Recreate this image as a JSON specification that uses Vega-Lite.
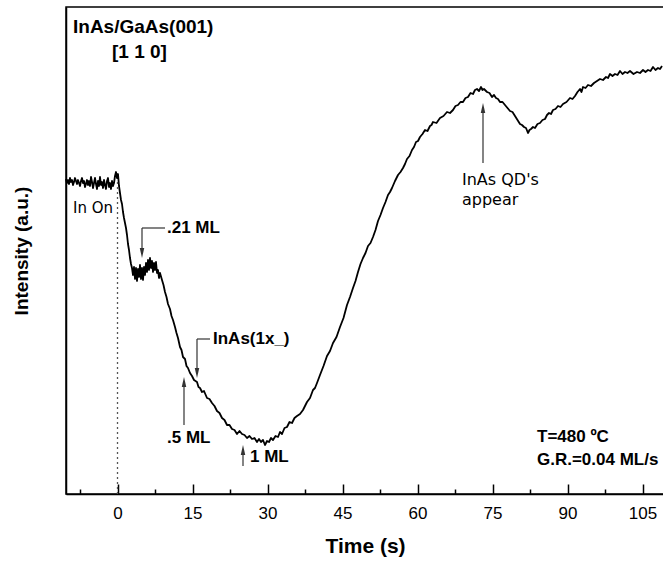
{
  "$schema": "https://vega.github.io/schema/vega-lite/v6.json",
  "width": 598,
  "height": 487,
  "autosize": {"type": "none"},
  "padding": {"left": 66, "top": 7, "right": 0, "bottom": 70},
  "background": "white",
  "config": {"view": {"stroke": "black", "strokeWidth": 1.5}, "axis": {"grid": false}},
  "datasets": {
    "curve": [
      {"t":-10.3,"v":315},{"t":-10.1,"v":311},{"t":-9.9,"v":314},{"t":-9.7,"v":310},{"t":-9.5,"v":316},{"t":-9.3,"v":312},{"t":-9.1,"v":314},{"t":-8.9,"v":309},{"t":-8.7,"v":312},{"t":-8.5,"v":316},{"t":-8.3,"v":313},{"t":-8.1,"v":310},{"t":-7.9,"v":314},{"t":-7.7,"v":311},{"t":-7.5,"v":308},{"t":-7.3,"v":313},{"t":-7.1,"v":316},{"t":-6.9,"v":311},{"t":-6.7,"v":313},{"t":-6.5,"v":307},{"t":-6.3,"v":310},{"t":-6.1,"v":314},{"t":-5.9,"v":309},{"t":-5.7,"v":313},{"t":-5.5,"v":308},{"t":-5.3,"v":317},{"t":-5.1,"v":312},{"t":-4.9,"v":306},{"t":-4.7,"v":311},{"t":-4.5,"v":316},{"t":-4.3,"v":310},{"t":-4.1,"v":305},{"t":-3.9,"v":313},{"t":-3.7,"v":308},{"t":-3.5,"v":317},{"t":-3.3,"v":309},{"t":-3.1,"v":312},{"t":-2.9,"v":306},{"t":-2.7,"v":314},{"t":-2.5,"v":309},{"t":-2.3,"v":305},{"t":-2.1,"v":313},{"t":-1.9,"v":316},{"t":-1.7,"v":307},{"t":-1.5,"v":311},{"t":-1.3,"v":305},{"t":-1.1,"v":313},{"t":-0.9,"v":308},{"t":-0.7,"v":311},{"t":-0.5,"v":318},{"t":-0.3,"v":322},{"t":-0.1,"v":316},{"t":0.1,"v":320},{"t":0.3,"v":308},
      {"t":0.5,"v":301},{"t":0.7,"v":294},{"t":0.9,"v":290},{"t":1.1,"v":282},{"t":1.3,"v":276},{"t":1.5,"v":271},{"t":1.7,"v":266},{"t":1.9,"v":259},{"t":2.1,"v":250},{"t":2.3,"v":244},{"t":2.5,"v":236},{"t":2.7,"v":230},{"t":2.9,"v":226},{"t":3.1,"v":219},{"t":3.3,"v":227},{"t":3.5,"v":215},{"t":3.7,"v":226},{"t":3.9,"v":213},{"t":4.1,"v":225},{"t":4.3,"v":217},{"t":4.5,"v":229},{"t":4.7,"v":215},{"t":4.9,"v":226},{"t":5.1,"v":214},{"t":5.3,"v":227},{"t":5.5,"v":219},{"t":5.7,"v":231},{"t":5.9,"v":222},{"t":6.1,"v":234},{"t":6.3,"v":224},{"t":6.5,"v":236},{"t":6.7,"v":226},{"t":6.9,"v":233},{"t":7.1,"v":222},{"t":7.3,"v":231},{"t":7.5,"v":224},{"t":7.7,"v":232},{"t":7.9,"v":221},{"t":8.1,"v":224},{"t":8.3,"v":216},{"t":8.5,"v":221},
      {"t":8.9,"v":214},{"t":9.2,"v":209},{"t":9.5,"v":202},{"t":9.8,"v":197},{"t":10.1,"v":190},{"t":10.5,"v":185},{"t":10.8,"v":178},{"t":11.1,"v":174},{"t":11.5,"v":167},{"t":11.8,"v":161},{"t":12.1,"v":156},{"t":12.5,"v":147},{"t":12.8,"v":144},{"t":13.1,"v":137},{"t":13.5,"v":135},{"t":13.8,"v":128},{"t":14.1,"v":126},{"t":14.5,"v":121},{"t":14.9,"v":118},{"t":15.3,"v":114},{"t":15.9,"v":112},{"t":16.2,"v":107},{"t":16.5,"v":106},{"t":16.9,"v":102},{"t":17.3,"v":103},{"t":17.9,"v":96},{"t":18.4,"v":95},{"t":18.9,"v":91},{"t":19.4,"v":88},{"t":19.9,"v":83},{"t":20.4,"v":81},{"t":20.9,"v":76},{"t":21.4,"v":74},{"t":21.9,"v":69},{"t":22.4,"v":69},{"t":22.9,"v":65},{"t":23.4,"v":64},{"t":23.9,"v":60},{"t":24.4,"v":63},{"t":24.9,"v":60},{"t":25.4,"v":59},{"t":25.9,"v":56},{"t":26.4,"v":58},{"t":26.9,"v":55},{"t":27.4,"v":56},{"t":27.9,"v":52},{"t":28.3,"v":55},{"t":28.7,"v":52},{"t":29.1,"v":54},{"t":29.5,"v":49},{"t":29.9,"v":53},{"t":30.3,"v":52},{"t":30.7,"v":56},{"t":31.1,"v":54},{"t":31.6,"v":58},{"t":32.1,"v":57},{"t":32.5,"v":62},{"t":32.9,"v":60},{"t":33.4,"v":66},{"t":33.9,"v":67},{"t":34.4,"v":72},{"t":34.9,"v":71},{"t":35.4,"v":76},{"t":35.9,"v":78},{"t":36.5,"v":80},{"t":37.1,"v":84},{"t":37.5,"v":88},{"t":37.9,"v":92},{"t":38.5,"v":96},{"t":39.1,"v":104},{"t":39.5,"v":106},{"t":39.9,"v":111},{"t":40.5,"v":119},{"t":41.2,"v":128},{"t":41.9,"v":138},{"t":42.5,"v":143},{"t":43.1,"v":151},{"t":43.8,"v":157},{"t":44.5,"v":167},{"t":45.2,"v":176},{"t":45.9,"v":189},{"t":46.5,"v":197},{"t":47.1,"v":206},{"t":47.6,"v":213},{"t":48.1,"v":222},{"t":48.6,"v":230},{"t":49.1,"v":236},{"t":49.6,"v":241},{"t":50.1,"v":248},{"t":50.6,"v":251},{"t":51.1,"v":257},{"t":51.6,"v":264},{"t":52.1,"v":273},{"t":52.6,"v":279},{"t":53.1,"v":286},{"t":53.6,"v":292},{"t":54.1,"v":299},{"t":54.5,"v":302},{"t":54.9,"v":306},{"t":55.5,"v":313},{"t":56.1,"v":319},{"t":56.6,"v":322},{"t":57.1,"v":326},{"t":57.5,"v":330},{"t":57.9,"v":335},{"t":58.4,"v":338},{"t":58.9,"v":344},{"t":59.3,"v":347},{"t":59.7,"v":352},{"t":60.1,"v":353},{"t":60.5,"v":357},{"t":61.0,"v":360},{"t":61.5,"v":364},{"t":62.0,"v":363},{"t":62.5,"v":368},{"t":62.8,"v":369},{"t":63.1,"v":372},{"t":63.8,"v":371},{"t":64.5,"v":376},{"t":65.2,"v":378},{"t":65.9,"v":382},{"t":66.5,"v":381},{"t":67.1,"v":384},{"t":67.6,"v":388},{"t":68.1,"v":389},{"t":68.6,"v":392},{"t":69.1,"v":392},{"t":69.6,"v":396},{"t":70.1,"v":397},{"t":70.6,"v":401},{"t":71.1,"v":400},{"t":71.5,"v":404},{"t":71.9,"v":405},{"t":72.3,"v":403},{"t":72.7,"v":407},{"t":73.0,"v":404},{"t":73.3,"v":405},{"t":73.9,"v":402},{"t":74.4,"v":401},{"t":74.9,"v":397},{"t":75.3,"v":399},{"t":75.7,"v":396},{"t":76.1,"v":395},{"t":76.5,"v":392},{"t":77.0,"v":392},{"t":77.5,"v":389},{"t":78.0,"v":386},{"t":78.5,"v":383},{"t":79.0,"v":382},{"t":79.5,"v":378},{"t":80.0,"v":374},{"t":80.5,"v":370},{"t":80.9,"v":369},{"t":81.3,"v":367},{"t":81.7,"v":366},{"t":82.1,"v":361},{"t":82.4,"v":364},{"t":82.7,"v":365},{"t":83.1,"v":367},{"t":83.5,"v":366},{"t":84.0,"v":370},{"t":84.5,"v":371},{"t":85.0,"v":374},{"t":85.5,"v":375},{"t":85.9,"v":379},{"t":86.3,"v":381},{"t":86.7,"v":380},{"t":87.1,"v":384},{"t":87.6,"v":385},{"t":88.1,"v":388},{"t":88.6,"v":387},{"t":89.1,"v":390},{"t":89.8,"v":392},{"t":90.5,"v":396},{"t":91.0,"v":395},{"t":91.5,"v":398},{"t":92.0,"v":402},{"t":92.5,"v":405},{"t":92.8,"v":402},{"t":93.1,"v":407},{"t":93.6,"v":406},{"t":94.1,"v":409},{"t":94.7,"v":408},{"t":95.3,"v":411},{"t":95.9,"v":413},{"t":96.5,"v":415},{"t":97.1,"v":414},{"t":97.7,"v":417},{"t":98.1,"v":416},{"t":98.5,"v":420},{"t":99.0,"v":418},{"t":99.5,"v":420},{"t":100.0,"v":419},{"t":100.5,"v":423},{"t":101.0,"v":420},{"t":101.5,"v":422},{"t":102.0,"v":421},{"t":102.5,"v":423},{"t":103.2,"v":420},{"t":103.9,"v":422},{"t":104.5,"v":421},{"t":105.1,"v":424},{"t":105.6,"v":422},{"t":106.1,"v":424},{"t":106.6,"v":423},{"t":107.1,"v":427},{"t":107.6,"v":424},{"t":108.1,"v":426},{"t":108.5,"v":425},{"t":108.9,"v":428}
    ],
    "dotted": [{"t": 0, "v": 0, "v2": 314}],
    "arrows": [
      {"t": 4.9, "v": 266, "t2": 4.9, "v2": 240},
      {"t": 4.9, "v": 266, "t2": 9.5, "v2": 266},
      {"t": 15.9, "v": 155, "t2": 15.9, "v2": 120},
      {"t": 15.9, "v": 155, "t2": 18.5, "v2": 155},
      {"t": 13.3, "v": 69, "t2": 13.3, "v2": 113},
      {"t": 25.1, "v": 28, "t2": 25.1, "v2": 45},
      {"t": 73.1, "v": 331, "t2": 73.1, "v2": 387}
    ],
    "headsUp": [{"t": 13.3, "v": 112}, {"t": 25.1, "v": 44}, {"t": 73.1, "v": 386}],
    "headsDown": [{"t": 4.9, "v": 241}, {"t": 15.9, "v": 121}],
    "boldNotes": [
      {"t": 9.9, "v": 266, "label": ".21 ML"},
      {"t": 19.1, "v": 155, "label": "InAs(1x_)"},
      {"t": 9.9, "v": 56, "label": ".5 ML"},
      {"t": 26.5, "v": 37, "label": "1 ML"},
      {"t": 83.9, "v": 57, "label": "T=480 ºC"},
      {"t": 83.9, "v": 34, "label": "G.R.=0.04 ML/s"}
    ],
    "titleNotes": [
      {"t": -8.9, "v": 467, "label": "InAs/GaAs(001)"},
      {"t": -1.1, "v": 442, "label": "[1 1 0]"}
    ],
    "plainNotes": [
      {"t": 68.9, "v": 314, "label": "InAs QD's"},
      {"t": 68.9, "v": 294, "label": "appear"}
    ],
    "inOn": [{"t": -8.9, "v": 286, "label": "In On"}]
  },
  "layer": [
    {
      "data": {"name": "curve"},
      "mark": {"type": "line", "color": "black", "strokeWidth": 1.8, "strokeJoin": "round"},
      "encoding": {
        "x": {"field": "t", "type": "quantitative",
          "scale": {"domain": [-10.3, 109.3], "nice": false, "zero": false},
          "axis": {"values": [0, 15, 30, 45, 60, 75, 90, 105], "tickSize": -10, "tickWidth": 1.5, "tickColor": "black", "domainColor": "black", "domainWidth": 1.5, "labelFont": "Liberation Sans", "labelFontSize": 17, "labelColor": "black", "labelPadding": 21, "labelFlush": false, "labelOverlap": false, "title": "Time (s)", "titleFont": "Liberation Sans", "titleFontSize": 21, "titleFontWeight": "bold", "titleColor": "black", "titlePadding": 14, "grid": false}},
        "y": {"field": "v", "type": "quantitative",
          "scale": {"domain": [0, 487], "nice": false, "zero": false},
          "axis": {"ticks": false, "labels": false, "domainColor": "black", "domainWidth": 1.5, "title": "Intensity (a.u.)", "titleFont": "Liberation Sans", "titleFontSize": 19, "titleFontWeight": "bold", "titleColor": "black", "titlePadding": 35, "grid": false}}
      }
    },
    {
      "data": {"name": "dotted"},
      "mark": {"type": "rule", "color": "#555", "strokeWidth": 1.3, "strokeDash": [2, 3]},
      "encoding": {
        "x": {"field": "t", "type": "quantitative", "scale": {"domain": [-10.3, 109.3], "nice": false, "zero": false},
          "axis": {"values": [-7.5, 7.5, 22.5, 37.5, 52.5, 67.5, 82.5, 97.5], "orient": "bottom", "tickSize": -5, "tickWidth": 1.5, "tickColor": "black", "domain": false, "labels": false, "title": null, "grid": false}},
        "y": {"field": "v", "type": "quantitative", "scale": {"domain": [0, 487], "nice": false, "zero": false}},
        "y2": {"field": "v2"}
      }
    },
    {
      "data": {"name": "arrows"},
      "mark": {"type": "rule", "color": "#333", "strokeWidth": 1.2},
      "encoding": {
        "x": {"field": "t", "type": "quantitative", "scale": {"domain": [-10.3, 109.3], "nice": false, "zero": false}, "axis": null},
        "x2": {"field": "t2"},
        "y": {"field": "v", "type": "quantitative", "scale": {"domain": [0, 487], "nice": false, "zero": false}},
        "y2": {"field": "v2"}
      }
    },
    {
      "data": {"name": "headsUp"},
      "mark": {"type": "point", "shape": "M0,-1L-0.45,1L0.45,1Z", "filled": true, "color": "#333", "size": 100, "opacity": 1},
      "encoding": {
        "x": {"field": "t", "type": "quantitative", "scale": {"domain": [-10.3, 109.3], "nice": false, "zero": false}, "axis": null},
        "y": {"field": "v", "type": "quantitative", "scale": {"domain": [0, 487], "nice": false, "zero": false}}
      }
    },
    {
      "data": {"name": "headsDown"},
      "mark": {"type": "point", "shape": "M0,1L-0.45,-1L0.45,-1Z", "filled": true, "color": "#333", "size": 100, "opacity": 1},
      "encoding": {
        "x": {"field": "t", "type": "quantitative", "scale": {"domain": [-10.3, 109.3], "nice": false, "zero": false}, "axis": null},
        "y": {"field": "v", "type": "quantitative", "scale": {"domain": [0, 487], "nice": false, "zero": false}}
      }
    },
    {
      "data": {"name": "boldNotes"},
      "mark": {"type": "text", "font": "Liberation Sans", "fontWeight": "bold", "fontSize": 17, "align": "left", "baseline": "middle", "color": "black"},
      "encoding": {
        "x": {"field": "t", "type": "quantitative", "scale": {"domain": [-10.3, 109.3], "nice": false, "zero": false}, "axis": null},
        "y": {"field": "v", "type": "quantitative", "scale": {"domain": [0, 487], "nice": false, "zero": false}},
        "text": {"field": "label"}
      }
    },
    {
      "data": {"name": "titleNotes"},
      "mark": {"type": "text", "font": "Liberation Sans", "fontWeight": "bold", "fontSize": 19, "align": "left", "baseline": "middle", "color": "black"},
      "encoding": {
        "x": {"field": "t", "type": "quantitative", "scale": {"domain": [-10.3, 109.3], "nice": false, "zero": false}, "axis": null},
        "y": {"field": "v", "type": "quantitative", "scale": {"domain": [0, 487], "nice": false, "zero": false}},
        "text": {"field": "label"}
      }
    },
    {
      "data": {"name": "plainNotes"},
      "mark": {"type": "text", "font": "DejaVu Sans", "fontSize": 16, "align": "left", "baseline": "middle", "color": "black"},
      "encoding": {
        "x": {"field": "t", "type": "quantitative", "scale": {"domain": [-10.3, 109.3], "nice": false, "zero": false}, "axis": null},
        "y": {"field": "v", "type": "quantitative", "scale": {"domain": [0, 487], "nice": false, "zero": false}},
        "text": {"field": "label"}
      }
    },
    {
      "data": {"name": "inOn"},
      "mark": {"type": "text", "font": "DejaVu Sans", "fontSize": 15, "align": "left", "baseline": "middle", "color": "black"},
      "encoding": {
        "x": {"field": "t", "type": "quantitative", "scale": {"domain": [-10.3, 109.3], "nice": false, "zero": false}, "axis": null},
        "y": {"field": "v", "type": "quantitative", "scale": {"domain": [0, 487], "nice": false, "zero": false}},
        "text": {"field": "label"}
      }
    }
  ],
  "resolve": {"axis": {"x": "independent"}}
}
